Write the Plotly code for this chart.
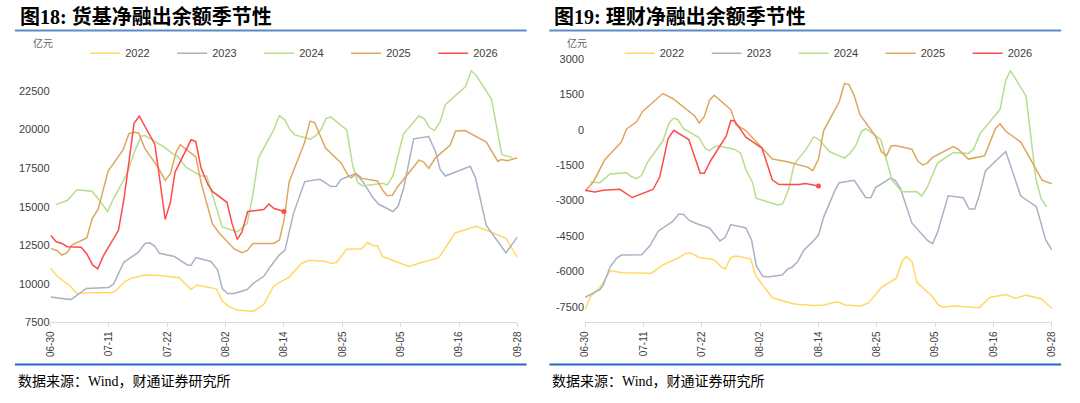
import plotly.graph_objects as go

# ---- data ----
years = ["2022", "2023", "2024", "2025", "2026"]
colors = ["#FFD966", "#A9B1C3", "#B6DE8E", "#DDA75F", "#FF4B4B"]
date_labels = ["06-30", "07-11", "07-22", "08-02", "08-14", "08-25", "09-05", "09-16", "09-28"]

# 图18 货基 (day offset from 06-30, 亿元)
mmf_x_2022 = [0, 1.3, 3.8, 5.1, 7.3, 11.8, 12.7, 14.3, 15.6, 18.2, 21, 22.3, 24.8, 27.1, 28.2, 30.3, 32, 33.1, 34.4, 36,
              39.2, 41.1, 43, 44, 46, 48.4, 49.8, 52.8, 54.2, 55.1, 57.1, 60, 61.1, 62.1, 63, 64, 67.2, 69.1, 71, 74.8,
              78, 82, 84.4, 87.8, 90]
mmf_y_2022 = [11020, 10490, 9850, 9360, 9420, 9420, 9570, 10150, 10360, 10570, 10550, 10490, 10400, 9630, 9930, 9780,
              9680, 8890, 8520, 8290, 8230, 8670, 9850, 10060, 10440, 11340, 11530, 11470, 11320, 11380, 12240, 12280,
              12680, 12490, 12470, 11770, 11400, 11130, 11340, 11680, 13300, 13730, 13430, 12950, 11700]
mmf_x_2023 = [0, 3.9, 6.9, 11.2, 12.2, 14.1, 16.9, 18.2, 19.1, 20.1, 21, 23.9, 25.2, 26.4, 27.1, 28, 30.9, 32.2, 33.1,
              34.1, 35.4, 37.9, 39.2, 41.1, 42.4, 44, 45.2, 46.8, 49, 51.9, 54.1, 55.1, 56, 58.8, 60.2, 62.1, 63.3, 66,
              67, 68.1, 70, 72.9, 74.2, 75.1, 76.1, 80.9, 81.9, 84, 87.8, 90]
mmf_y_2023 = [9150, 8980, 9700, 9770, 10000, 11400, 12040, 12620, 12660, 12450, 11980, 11770, 11470, 11230, 11210,
              11700, 11450, 10910, 9700, 9380, 9380, 9630, 10060, 10490, 11130, 11830, 12190, 14540, 16630, 16780,
              16310, 16330, 16780, 17140, 16630, 15600, 15160, 14690, 15030, 16250, 19400, 19550, 18590, 17420, 16990,
              17630, 16890, 13790, 12000, 13050]
mmf_x_2024 = [1, 3.2, 5.1, 8, 9.2, 11, 12.1, 14.7, 16.2, 17.5, 18.2, 22, 23.3, 24.5, 26.1, 29, 30.1, 31.2, 33.1, 36,
              37.9, 38.9, 40.1, 43, 44.1, 45.2, 46.1, 47.1, 50.1, 51.2, 52.2, 53.1, 54, 57.1, 58.2, 59.2, 60.2, 64,
              64.9, 66, 68, 71, 72.1, 73, 74, 75.1, 76.1, 80, 81.1, 82, 85, 86.1, 87, 89]
mmf_y_2024 = [15140, 15400, 16100, 16010, 15500, 14690, 15500, 17100, 18590, 19590, 19620, 18850, 18490, 18270, 17570,
              16990, 16990, 15820, 13690, 13370, 13900, 15600, 18170, 19980, 20900, 20620, 20020, 19660, 19380, 19620,
              20040, 20720, 20830, 19980, 17740, 16570, 16350, 16520, 16420, 17000, 19700, 20900, 20680, 20150, 19940,
              20510, 21620, 22790, 23820, 23540, 21960, 19980, 18380, 18200]
mmf_x_2025 = [0, 1.3, 2.2, 3.2, 4.1, 7, 8, 9.2, 11.1, 14, 15.1, 16.2, 17, 18.2, 20.7, 22.1, 23.1, 24.2, 25, 28, 29.1,
              31.2, 32.5, 35.4, 36.9, 37.9, 39, 43, 44.1, 45, 46, 49, 50, 50.9, 53, 56, 57.3, 58, 58.9, 60, 63, 64.1,
              64.9, 65.9, 66.8, 69.7, 71, 71.9, 72.9, 74.2, 77, 78.1, 79.9, 84, 86.2, 86.9, 88.1, 90]
mmf_y_2025 = [12300, 12150, 11870, 12020, 12510, 12980, 14220, 14860, 17310, 18700, 19740, 19830, 19770, 18760, 17570,
              16710, 17140, 18530, 19020, 18230, 16460, 13900, 13300, 12260, 12020, 12150, 12620, 12620, 12830, 14110,
              16630, 19190, 20550, 20460, 18800, 17840, 17060, 16880, 17160, 16840, 16670, 16030, 15710, 15750, 16250,
              17420, 18020, 17910, 17480, 18170, 18980, 19910, 19940, 19190, 17950, 18060, 17990, 18180]
mmf_x_2026 = [0, 1.1, 2.2, 3.2, 5.9, 7, 8.1, 9.1, 10.2, 13.1, 14.2, 16.1, 17.1, 20.1, 21, 22.1, 23.1, 24, 27.1, 28, 29,
              30.3, 31.2, 34, 35, 36, 36.9, 38, 41.1, 42.1, 43, 45]
mmf_y_2026 = [13150, 12730, 12620, 12410, 12380, 11940, 11230, 10980, 11830, 13470, 15610, 20410, 20870, 19060, 16890,
              14180, 15290, 17250, 19340, 19230, 17530, 16460, 15990, 15290, 13900, 12880, 13370, 14690, 14820, 15180,
              14900, 14690]

# 图19 理财
wmp_x_2022 = [0, 1, 2.9, 4.8, 5.4, 7, 12.8, 15, 17.9, 19.5, 20.4, 22, 24.9, 26.2, 27, 28.1, 29.1, 31.9, 32.9, 36.1,
              39.9, 41.2, 42.8, 44.1, 46.1, 48.1, 49, 50.1, 53.2, 54.7, 57.1, 60, 61.1, 61.9, 63, 64, 67, 68.1, 69.1,
              71, 76, 78, 81.1, 83, 85, 87.9, 90]
wmp_y_2022 = [-7630, -7080, -6690, -5990, -5990, -6060, -6080, -5730, -5440, -5230, -5230, -5410, -5510, -5800, -5900,
              -5410, -5350, -5470, -6190, -7120, -7360, -7410, -7430, -7450, -7430, -7310, -7310, -7430, -7470, -7330,
              -6690, -6290, -5580, -5370, -5580, -6480, -7080, -7430, -7520, -7470, -7540, -7110, -6980, -7150, -7010,
              -7160, -7570]
wmp_x_2023 = [0, 2.9, 3.5, 4.8, 6.1, 7, 10.9, 12.5, 14.1, 16.9, 18.1, 19, 20.1, 21.7, 24, 26, 27, 28.1, 31, 32.1, 33,
              34.2, 35.1, 38, 39.1, 39.9, 41, 42.2, 44.1, 45, 46, 48.1, 49, 51.9, 54.1, 55.1, 56, 58.9, 59.8, 60.8, 63,
              66, 67, 67.9, 70, 72.9, 74, 75.1, 76, 77.2, 81.1, 81.8, 84, 87, 88.8, 90]
wmp_y_2023 = [-7100, -6770, -6590, -5830, -5440, -5310, -5300, -4920, -4300, -3880, -3570, -3590, -3840, -3990, -4160,
              -4710, -4570, -4020, -4160, -4670, -5760, -6200, -6240, -6160, -5900, -5830, -5590, -5090, -4690, -4460,
              -3700, -2600, -2240, -2140, -2870, -2880, -2450, -2050, -2140, -2490, -3950, -4690, -4830, -4370, -2800,
              -2880, -3350, -3370, -2770, -1730, -920, -1380, -2810, -3260, -4670, -5100]
wmp_x_2024 = [1, 2.9, 4.8, 8, 8.9, 9.9, 10.9, 12.1, 15, 16.2, 17.1, 17.9, 19, 22, 23.2, 24, 24.9, 25.6, 28.8, 30, 31,
              32.3, 33, 37.1, 38.1, 39.3, 40.3, 42.5, 44.1, 45.2, 47.1, 50, 51.1, 52.2, 53.3, 54.1, 57, 59.2, 61.1, 64,
              64.9, 66, 67.9, 71, 73.9, 74.9, 76.1, 80, 81.1, 82, 85, 86.2, 86.9, 87.9, 89]
wmp_y_2024 = [-2210, -2240, -1870, -1820, -1980, -2070, -1930, -1350, -475, 290, 500, 430, 50, -340, -800, -880, -725,
              -680, -820, -990, -1680, -2240, -2900, -3190, -3140, -2490, -1450, -860, -290, -430, -920, -1200, -990,
              -660, -60, 50, -410, -2140, -2630, -2630, -2810, -2420, -1420, -960, -1000, -820, -170, 870, 2100, 2510,
              1440, -680, -2070, -2910, -3280]
wmp_x_2025 = [0, 1.6, 3.8, 7, 8, 9.9, 11.1, 15, 16.9, 21.1, 22, 23, 24, 24.9, 28.1, 29.1, 31, 34.2, 36.1, 39, 43, 43.9,
              45, 46, 49, 50, 50.9, 51.9, 53, 56, 57.1, 58.1, 59, 59.8, 63, 64.1, 65.1, 65.9, 67, 71, 71.9, 73.9, 77,
              79.1, 80, 81.1, 84, 86.2, 88.1, 90]
wmp_y_2025 = [-2600, -2210, -1270, -520, 40, 330, 780, 1540, 1330, 600, 290, 570, 1260, 1470, 850, 220, -30, -790,
              -1240, -1350, -1590, -1730, -1240, -30, 1190, 1960, 1920, 1440, 640, -270, -920, -1100, -680, -660, -820,
              -1310, -1490, -1420, -1170, -710, -820, -1240, -1100, 50, 260, -60, -520, -1380, -2130, -2290]
wmp_x_2026 = [0, 1.9, 3.5, 6.7, 9.1, 13.1, 14.4, 16, 17.1, 20, 22.2, 23, 24.2, 27.2, 28.1, 28.8, 31, 34.1, 36.1, 37.4,
              41.2, 42.5, 45]
wmp_y_2026 = [-2560, -2630, -2560, -2520, -2870, -2530, -2000, -380, -20, -410, -1840, -1840, -1310, -270, 400, 390,
              -310, -780, -2120, -2320, -2320, -2280, -2380]

mmf_ticks = [7500, 10000, 12500, 15000, 17500, 20000, 22500]
wmp_ticks = [-7500, -6000, -4500, -3000, -1500, 0, 1500, 3000]

W, H = 1080, 403
FONT = "Liberation Sans, Noto Sans CJK SC, sans-serif"
SERIF = "Liberation Serif, Noto Sans CJK SC, serif"


def py(p):
    # pixel from top -> paper y
    return 1 - p / H


fig = go.Figure()

mmf = [(mmf_x_2022, mmf_y_2022), (mmf_x_2023, mmf_y_2023), (mmf_x_2024, mmf_y_2024),
       (mmf_x_2025, mmf_y_2025), (mmf_x_2026, mmf_y_2026)]
wmp = [(wmp_x_2022, wmp_y_2022), (wmp_x_2023, wmp_y_2023), (wmp_x_2024, wmp_y_2024),
       (wmp_x_2025, wmp_y_2025), (wmp_x_2026, wmp_y_2026)]

for i, (xs, ys) in enumerate(mmf):
    fig.add_trace(go.Scatter(x=xs, y=ys, mode="lines", name=years[i], legend="legend",
                             line=dict(color=colors[i], width=1.5), xaxis="x", yaxis="y"))
for i, (xs, ys) in enumerate(wmp):
    fig.add_trace(go.Scatter(x=xs, y=ys, mode="lines", name=years[i], legend="legend2",
                             line=dict(color=colors[i], width=1.5), xaxis="x2", yaxis="y2"))

# end-point dots of the current year
fig.add_trace(go.Scatter(x=[mmf_x_2026[-1]], y=[mmf_y_2026[-1]], mode="markers", showlegend=False,
                         marker=dict(color=colors[4], size=5), xaxis="x", yaxis="y"))
fig.add_trace(go.Scatter(x=[wmp_x_2026[-1]], y=[wmp_y_2026[-1]], mode="markers", showlegend=False,
                         marker=dict(color=colors[4], size=5), xaxis="x2", yaxis="y2"))

tickpos = [i * 90 / 8 for i in range(len(date_labels))]
xcommon = dict(range=[0, 90], tickvals=tickpos, ticktext=date_labels, tickangle=-90,
               showline=True, linecolor="#D9D9D9", linewidth=1, ticks="outside", ticklen=4,
               tickcolor="#D9D9D9", showgrid=False, zeroline=False,
               tickfont=dict(family=FONT, size=10, color="#404040"))
ycommon = dict(showgrid=False, zeroline=False, showline=False, ticks="",
               tickfont=dict(family=FONT, size=11, color="#404040"))
ydom = [py(327.3), py(53.3)]

legend_common = dict(orientation="h", yanchor="middle", y=py(54), xanchor="left",
                     font=dict(family=FONT, size=11, color="#404040"), bgcolor="rgba(0,0,0,0)",
                     itemwidth=30, entrywidth=42, entrywidthmode="pixels", tracegroupgap=0)

fig.update_layout(
    width=W, height=H, margin=dict(l=0, r=0, t=0, b=0),
    paper_bgcolor="white", plot_bgcolor="white",
    xaxis=dict(domain=[45 / W, 516.7 / W], anchor="y", **xcommon),
    yaxis=dict(domain=ydom, anchor="x", range=[7500, 25000], tickvals=mmf_ticks,
               ticktext=[str(v) for v in mmf_ticks], **ycommon),
    xaxis2=dict(domain=[585 / W, 1056.7 / W], anchor="y2", **xcommon),
    yaxis2=dict(domain=ydom, anchor="x2", range=[-8167, 3280], tickvals=wmp_ticks,
                ticktext=[str(v) for v in wmp_ticks], **ycommon),
    legend=dict(x=80 / W, **legend_common),
    legend2=dict(x=620 / W, **legend_common),
)

titles = [("图18: 货基净融出余额季节性", 9), ("图19: 理财净融出余额季节性", 549)]
for text, x0 in titles:
    fig.add_annotation(text="<b>" + text + "</b>", xref="paper", yref="paper", x=(x0 + 3) / W, y=py(16.5),
                       xanchor="left", yanchor="middle", showarrow=False,
                       font=dict(family=SERIF, size=20, color="#000000"))
    fig.add_annotation(text="亿元", xref="paper", yref="paper", x=(x0 + 16) / W, y=py(44),
                       xanchor="left", yanchor="middle", showarrow=False,
                       font=dict(family=FONT, size=10, color="#666666"))
    fig.add_annotation(text="数据来源：Wind，财通证券研究所", xref="paper", yref="paper", x=(x0 + 1) / W,
                       y=py(387), xanchor="left", yanchor="middle", showarrow=False,
                       font=dict(family=SERIF, size=14, color="#000000"))
    fig.add_shape(type="line", xref="paper", yref="paper", x0=x0 / W, x1=(x0 + 517) / W,
                  y0=py(31), y1=py(31), line=dict(color="#5B8BC5", width=2))
    fig.add_shape(type="line", xref="paper", yref="paper", x0=x0 / W, x1=(x0 + 517) / W,
                  y0=py(370), y1=py(370), line=dict(color="#2566C8", width=2))

# the page's default 8px body margin would push the figure off its place
fig.write_html("out.html", config={"displayModeBar": False},
               post_script="document.body.style.margin='0';document.body.style.overflow='hidden';")
